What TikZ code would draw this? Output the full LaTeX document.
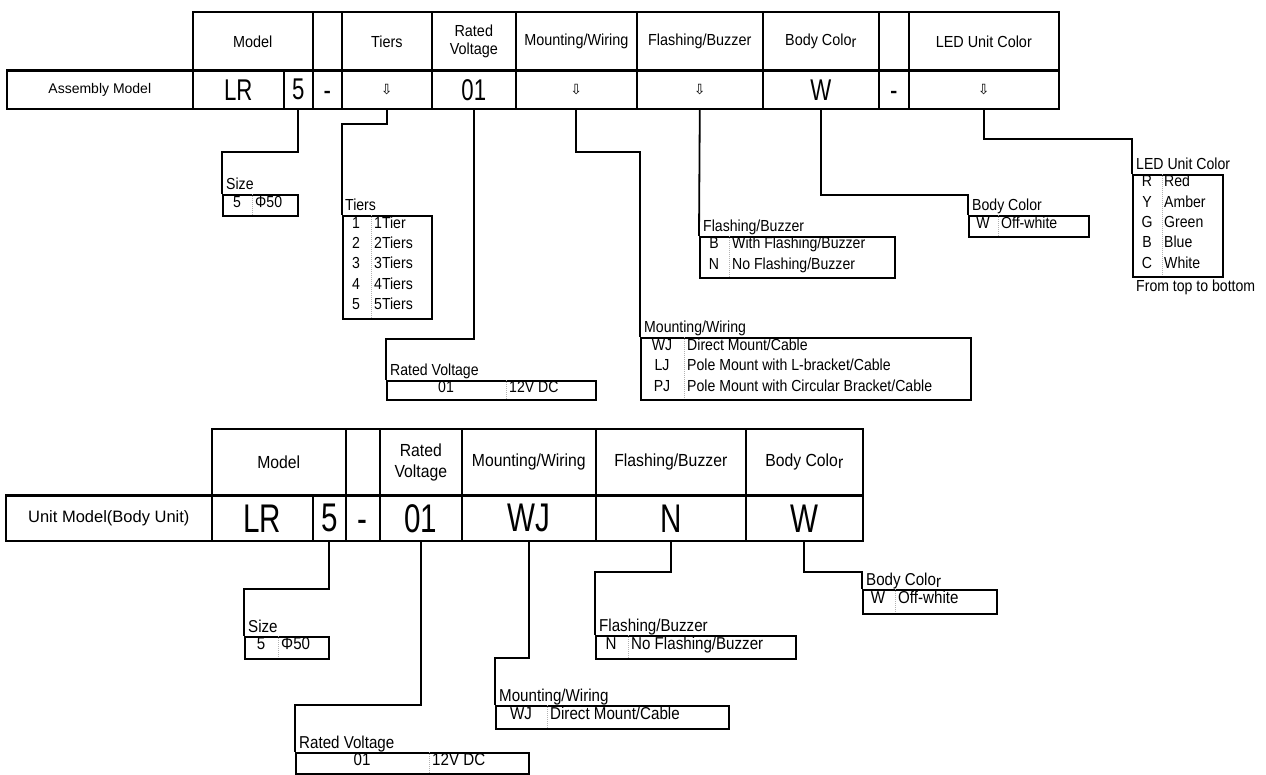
\documentclass[tikz,border=0pt]{standalone}
\usepackage{fontspec}
\setmainfont{Liberation Sans}
\newfontfamily\hdfam[FakeStretch=0.9]{Liberation Sans}
\newfontfamily\smfam[FakeStretch=0.88]{Liberation Sans}
\newfontfamily\bgfam[FakeStretch=0.74]{Liberation Sans}
\newfontfamily\arfam{DejaVu Sans}
\newcommand\hdT{\hdfam\fontsize{16}{18.5}\selectfont}
\newcommand\hdB{\hdfam\fontsize{17.5}{21}\selectfont}
\newcommand\rowT{\fontsize{14}{16}\selectfont}
\newcommand\rowB{\fontsize{16.5}{19}\selectfont}
\newcommand\bigT{\bgfam\fontsize{30}{32}\selectfont}
\newcommand\bigB{\bgfam\fontsize{40}{42}\selectfont}
\newcommand\smT{\smfam\fontsize{16}{18}\selectfont}
\newcommand\smB{\smfam\fontsize{17.2}{20}\selectfont}
\newcommand\arw{{\arfam\fontsize{14}{16}\selectfont ⇩}}
\newcommand\oddr{\raisebox{-0.12em}{r}}
\newcommand\dsh{\vphantom{0}-}
\newcommand\cellnode[7]{\node[cellbox, font=#6, minimum width={(#4-#2)*1pt}, minimum height={(#5-#3)*1pt}, anchor=north west] (#1) at (#2,#3) {#7};}
\newcommand\boxnode[5]{\node[sbox, minimum width={(#4-#2)*1pt}, minimum height={(#5-#3)*1pt}, anchor=north west] (#1) at (#2,#3) {};}
\tikzset{
  cellbox/.style={draw, line width=1.6pt, inner sep=0pt, align=center},
  sepline/.style={line width=2.8pt},
  conn/.style={line width=1.8pt},
  sbox/.style={draw, line width=1.8pt, inner sep=0pt},
  dv/.style={gray!60, line width=1pt, densely dotted},
  lbT/.style={inner sep=0pt, anchor=base west, font=\smT},
  lbB/.style={inner sep=0pt, anchor=base west, font=\smB},
  txT/.style={inner sep=0pt, anchor=mid west, font=\smT},
  cxT/.style={inner sep=0pt, anchor=mid, font=\smT},
  txB/.style={inner sep=0pt, anchor=mid west, font=\smB},
  cxB/.style={inner sep=0pt, anchor=mid, font=\smB},
}
\begin{document}
\begin{tikzpicture}[x=1pt,y=-1pt]
\useasboundingbox (0,0) rectangle (1266,775);
% ---------- top table ----------
\cellnode{hModel}{192}{11}{312}{70}{\hdT}{Model}
\cellnode{hB1}{312}{11}{341}{70}{\hdT}{}
\cellnode{hTiers}{341}{11}{431}{70}{\hdT}{Tiers}
\cellnode{hRV}{431}{11}{515}{70}{\hdT}{Rated\\Voltage}
\cellnode{hMW}{515}{11}{636}{70}{\hdT}{Mounting/Wiring}
\cellnode{hFB}{636}{11}{762}{70}{\hdT}{Flashing/Buzzer}
\cellnode{hBC}{762}{11}{878}{70}{\hdT}{Body Colo\oddr}
\cellnode{hB2}{878}{11}{908}{70}{\hdT}{}
\cellnode{hLED}{908}{11}{1058}{70}{\hdT}{LED Unit Color}
\cellnode{aName}{6}{70}{192}{108}{\rowT}{Assembly Model}
\cellnode{aLR}{192}{70}{283}{108}{\bigT}{LR}
\cellnode{a5}{283}{70}{312}{108}{\bigT}{5}
\cellnode{aD1}{312}{70}{341}{108}{\bigT}{\dsh}
\cellnode{aTiers}{341}{70}{431}{108}{\rowT}{\arw}
\cellnode{aRV}{431}{70}{515}{108}{\bigT}{01}
\cellnode{aMW}{515}{70}{636}{108}{\rowT}{\arw}
\cellnode{aFB}{636}{70}{762}{108}{\rowT}{\arw}
\cellnode{aBC}{762}{70}{878}{108}{\bigT}{W}
\cellnode{aD2}{878}{70}{908}{108}{\bigT}{\dsh}
\cellnode{aLED}{908}{70}{1058}{108}{\rowT}{\arw}
\draw[sepline] (aName.north west) -- (aLED.north east);
% ---------- top boxes ----------
% Size
\node[lbT] (szL) at (226,190) {Size};
\boxnode{szB}{222}{194}{297}{215}
\draw[dv] (252,194) -- (252,215);
\node[cxT] (szC) at (237,204.5) {5};
\node[txT] (szT) at (255,204.5) {Φ50};
% Tiers
\node[lbT] (tiL) at (345,211) {Tiers};
\boxnode{tiB}{342}{215}{431}{318}
\draw[dv] (371,215) -- (371,318);
\node[cxT] (ti1c) at (356,225.5) {1}; \node[txT] (ti1t) at (374,225.5) {1Tier};
\node[cxT] (ti2c) at (356,246) {2};   \node[txT] (ti2t) at (374,246) {2Tiers};
\node[cxT] (ti3c) at (356,266) {3};   \node[txT] (ti3t) at (374,266) {3Tiers};
\node[cxT] (ti4c) at (356,286.5) {4}; \node[txT] (ti4t) at (374,286.5) {4Tiers};
\node[cxT] (ti5c) at (356,307) {5};   \node[txT] (ti5t) at (374,307) {5Tiers};
% Rated voltage
\node[lbT] (rvL) at (390,376) {Rated Voltage};
\boxnode{rvB}{386}{380}{595}{399}
\draw[dv] (506,380) -- (506,399);
\node[cxT] (rvC) at (446,389.5) {01};
\node[txT] (rvT) at (509,389.5) {12V DC};
% Mounting/Wiring
\node[lbT] (mwL) at (644,333) {Mounting/Wiring};
\boxnode{mwB}{640}{337}{970}{399}
\draw[dv] (684,337) -- (684,399);
\node[cxT] (mw1c) at (662,347.5) {WJ}; \node[txT] (mw1t) at (687,347.5) {Direct Mount/Cable};
\node[cxT] (mw2c) at (662,368) {LJ};   \node[txT] (mw2t) at (687,368) {Pole Mount with L-bracket/Cable};
\node[cxT] (mw3c) at (662,388.5) {PJ}; \node[txT] (mw3t) at (687,388.5) {Pole Mount with Circular Bracket/Cable};
% Flashing/Buzzer
\node[lbT] (fbL) at (703,232) {Flashing/Buzzer};
\boxnode{fbB}{699}{236}{894}{277}
\draw[dv] (729,236) -- (729,277);
\node[cxT] (fb1c) at (714,246) {B};   \node[txT] (fb1t) at (732,246) {With Flashing/Buzzer};
\node[cxT] (fb2c) at (714,266.5) {N}; \node[txT] (fb2t) at (732,266.5) {No Flashing/Buzzer};
% Body color
\node[lbT] (bcL) at (972,211) {Body Color};
\boxnode{bcB}{968}{215}{1088}{236}
\draw[dv] (998,215) -- (998,236);
\node[cxT] (bcC) at (983,225.5) {W};
\node[txT] (bcT) at (1001,225.5) {Off-white};
% LED unit color
\node[lbT] (ledL) at (1136,170) {LED Unit Color};
\boxnode{ledB}{1132}{174}{1222}{276}
\draw[dv] (1162,174) -- (1162,276);
\node[cxT] (led1c) at (1147,184) {R};   \node[txT] (led1t) at (1164,184) {Red};
\node[cxT] (led2c) at (1147,204.5) {Y}; \node[txT] (led2t) at (1164,204.5) {Amber};
\node[cxT] (led3c) at (1147,225) {G};   \node[txT] (led3t) at (1164,225) {Green};
\node[cxT] (led4c) at (1147,245) {B};   \node[txT] (led4t) at (1164,245) {Blue};
\node[cxT] (led5c) at (1147,265.5) {C}; \node[txT] (led5t) at (1164,265.5) {White};
\node[lbT] (ftb) at (1136,292) {From top to bottom};
% top connectors
\draw[conn] (a5.south) |- (szB.north west |- 0,152) -- (szB.north west);
\draw[conn] (aTiers.south) |- (tiB.north west |- 0,124) -- (tiB.north west);
\draw[conn] (aRV.south) |- (rvB.north west |- 0,339) -- (rvB.north west);
\draw[conn] (aMW.south) |- (mwB.north west |- 0,152) -- (mwB.north west);
\draw[conn] (aFB.south) -- (fbB.north west);
\draw[conn] (aBC.south) |- (bcB.north west |- 0,195) -- (bcB.north west);
\draw[conn] (aLED.south) |- (ledB.north west |- 0,139) -- (ledB.north west);
% ---------- bottom table ----------
\cellnode{uModel}{211}{428}{345}{495}{\hdB}{Model}
\cellnode{uB1}{345}{428}{379}{495}{\hdB}{}
\cellnode{uRV}{379}{428}{461}{495}{\hdB}{Rated\\Voltage}
\cellnode{uMW}{461}{428}{595}{495}{\hdB}{Mounting/Wiring}
\cellnode{uFB}{595}{428}{745}{495}{\hdB}{Flashing/Buzzer}
\cellnode{uBC}{745}{428}{862}{495}{\hdB}{Body Colo\oddr}
\cellnode{bName}{5}{495}{211}{540}{\rowB}{Unit Model(Body Unit)}
\cellnode{bLR}{211}{495}{312}{540}{\bigB}{LR}
\cellnode{b5}{312}{495}{345}{540}{\bigB}{5}
\cellnode{bD}{345}{495}{379}{540}{\bigB}{\dsh}
\cellnode{bRV}{379}{495}{461}{540}{\bigB}{01}
\cellnode{bMW}{461}{495}{595}{540}{\bigB}{WJ}
\cellnode{bFB}{595}{495}{745}{540}{\bigB}{N}
\cellnode{bBC}{745}{495}{862}{540}{\bigB}{W}
\draw[sepline] (bName.north west) -- (bBC.north east);
% ---------- bottom boxes ----------
\node[lbB] (sz2L) at (248,632) {Size};
\boxnode{sz2B}{244}{636}{328}{658}
\draw[dv] (278,636) -- (278,658);
\node[cxB] (sz2C) at (261,647) {5};
\node[txB] (sz2T) at (281,647) {Φ50};
\node[lbB] (rv2L) at (299,748) {Rated Voltage};
\boxnode{rv2B}{295}{752}{528}{773}
\draw[dv] (429,752) -- (429,773);
\node[cxB] (rv2C) at (362,762.5) {01};
\node[txB] (rv2T) at (432,762.5) {12V DC};
\node[lbB] (mw2L) at (499,701) {Mounting/Wiring};
\boxnode{mw2B}{495}{705}{728}{728}
\draw[dv] (547,705) -- (547,728);
\node[cxB] (mw2C) at (521,716.5) {WJ};
\node[txB] (mw2T) at (550,716.5) {Direct Mount/Cable};
\node[lbB] (fb2L) at (599,631) {Flashing/Buzzer};
\boxnode{fb2B}{595}{635}{795}{658}
\draw[dv] (628,635) -- (628,658);
\node[cxB] (fb2C) at (611,646.5) {N};
\node[txB] (fb2T) at (631,646.5) {No Flashing/Buzzer};
\node[lbB] (bc2L) at (866,585) {Body Colo\oddr};
\boxnode{bc2B}{862}{589}{996}{613}
\draw[dv] (895,589) -- (895,613);
\node[cxB] (bc2C) at (878,601) {W};
\node[txB] (bc2T) at (898,601) {Off-white};
% bottom connectors
\draw[conn] (b5.south) |- (sz2B.north west |- 0,589) -- (sz2B.north west);
\draw[conn] (bRV.south) |- (rv2B.north west |- 0,705) -- (rv2B.north west);
\draw[conn] (bMW.south) |- (mw2B.north west |- 0,658) -- (mw2B.north west);
\draw[conn] (bFB.south) |- (fb2B.north west |- 0,572) -- (fb2B.north west);
\draw[conn] (bBC.south) |- (bc2B.north west |- 0,572) -- (bc2B.north west);
\end{tikzpicture}
\end{document}
